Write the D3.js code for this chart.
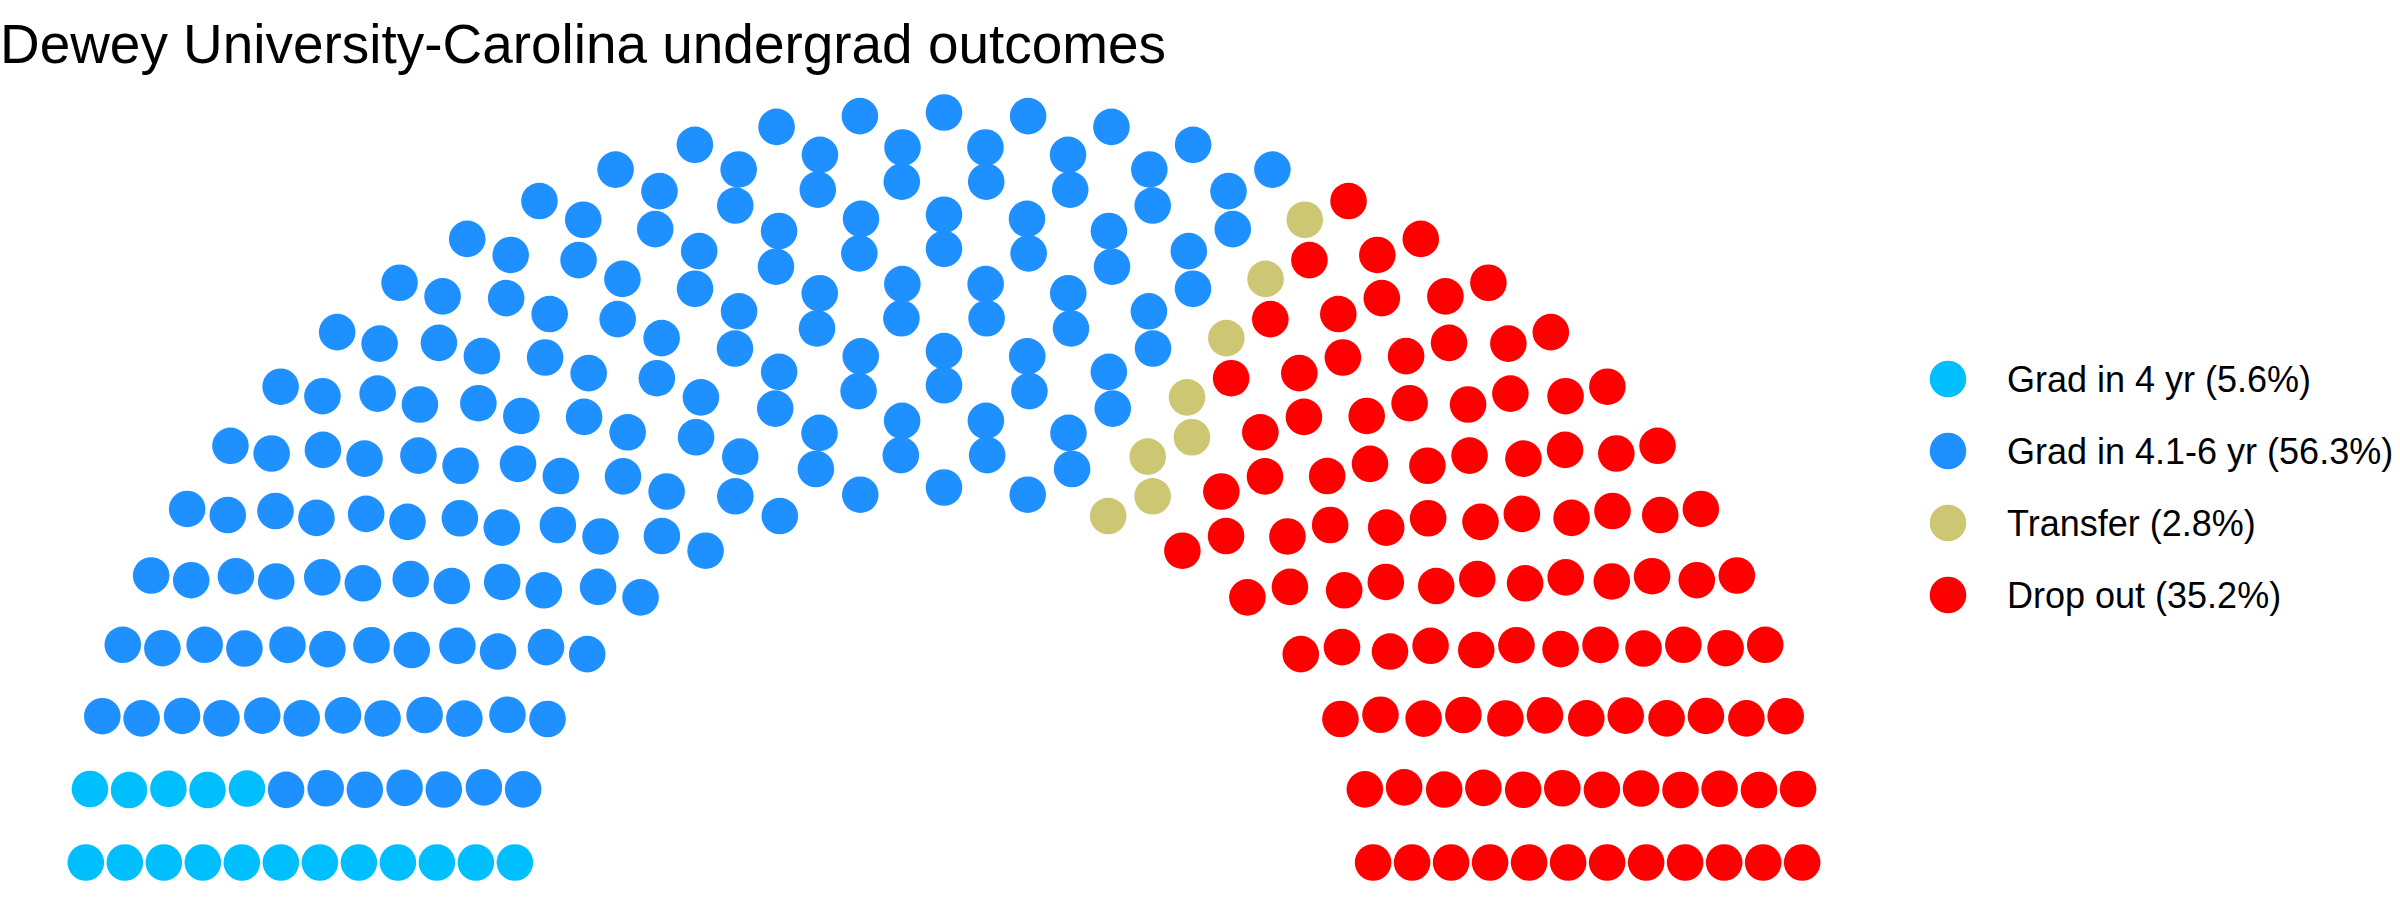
<!DOCTYPE html>
<html>
<head>
<meta charset="utf-8">
<script src="https://cdn.jsdelivr.net/npm/d3@7"></script>
<style>
  html, body { margin: 0; padding: 0; background: #fff; }
  svg { display: block; font-family: "Liberation Sans", Arial, Helvetica, sans-serif; }
</style>
</head>
<body>
<svg id="chart" width="2400" height="900"></svg>
<script>
// outcome groups, in seating order (left to right)
const parties = ["Grad in 4 yr", "Grad in 4.1-6 yr", "Transfer", "Drop out"];
const seats = [17, 169, 8, 106];
const shares = ["5.6%", "56.3%", "2.8%", "35.2%"];
const colors = ["#00BFFF", "#1E90FF", "#CDC673", "#FF0000"];
// seats on each of the 12 arcs, inner to outer
const rowSeats = [17, 18, 20, 21, 23, 24, 26, 27, 29, 30, 32, 33];
const rowRadius = [1, 2]; // inner and outer arc radius (data units)

const W = 2400, H = 900;
const svg = d3.select("#chart");
svg.append("rect").attr("width", W).attr("height", H).attr("fill", "#fff");

// semicircle layout: each arc spreads its seats evenly from 0 to pi,
// then seats are handed out by angle (left first), outer arcs first on ties
const radii = d3.range(rowSeats.length).map((i) =>
  rowRadius[0] + (i * (rowRadius[1] - rowRadius[0])) / (rowSeats.length - 1));
let pts = [];
rowSeats.forEach((n, i) => {
  const step = Math.PI / (n - 1);
  for (let k = 0; k < n; k++) {
    const theta = k === n - 1 ? Math.PI : k * step;
    pts.push({ row: i, r: radii[i], theta: theta });
  }
});
pts.sort((a, b) => (b.theta - a.theta) || (b.r - a.r));
const owner = parties.flatMap((p, i) => d3.range(seats[i]).map(() => i));
pts.forEach((d, i) => { d.party = owner[i]; });

const x = d3.scaleLinear().domain([-2.2, 2.2]).range([0, 1888]);
const y = d3.scaleLinear().domain([-0.1, 2.1]).range([900, 75]);
const color = d3.scaleOrdinal().domain(d3.range(parties.length)).range(colors);

svg.append("g")
  .selectAll("circle")
  .data(pts)
  .join("circle")
  .attr("cx", (d) => x(d.r * Math.cos(d.theta)))
  .attr("cy", (d) => y(d.r * Math.sin(d.theta)))
  .attr("r", 18.3)
  .attr("fill", (d) => color(d.party));

svg.append("text")
  .attr("x", 0)
  .attr("y", 63)
  .attr("font-size", 56)
  .attr("fill", "#000")
  .attr("textLength", 1166)
  .attr("lengthAdjust", "spacingAndGlyphs")
  .text("Dewey University-Carolina undergrad outcomes");

// legend
const leg = svg.append("g").attr("transform", "translate(1948,379)");
const item = leg.selectAll("g")
  .data(parties)
  .join("g")
  .attr("transform", (d, i) => `translate(0,${i * 72})`);
item.append("circle")
  .attr("r", 18.3)
  .attr("fill", (d, i) => colors[i]);
item.append("text")
  .attr("x", 59)
  .attr("y", 13)
  .attr("font-size", 36)
  .attr("fill", "#000")
  .text((d, i) => `${d} (${shares[i]})`);
</script>
</body>
</html>
